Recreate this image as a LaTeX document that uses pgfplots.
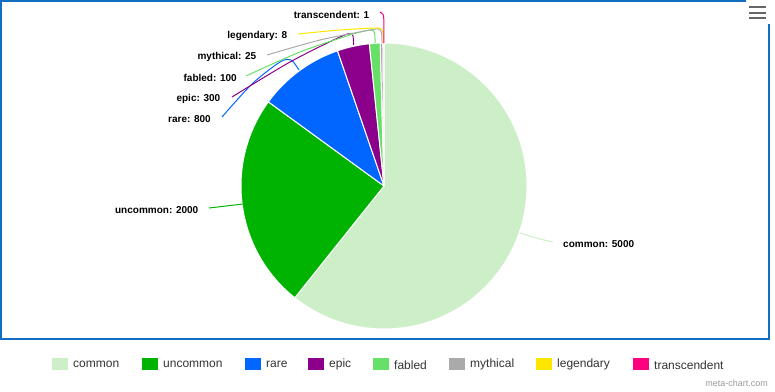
\documentclass[border=0pt]{standalone}
\usepackage{pgfplots}
\usepackage{pgfplotstable}
\pgfplotsset{compat=1.18}
\usepackage{fontspec}
\setmainfont{Liberation Sans}

\definecolor{pie0}{HTML}{CCEFC8}
\definecolor{pie1}{HTML}{00B300}
\definecolor{pie2}{HTML}{0066FF}
\definecolor{pie3}{HTML}{8B008B}
\definecolor{pie4}{HTML}{66E066}
\definecolor{pie5}{HTML}{AAAAAA}
\definecolor{pie6}{HTML}{FFE600}
\definecolor{pie7}{HTML}{FF0080}
\definecolor{frameblue}{HTML}{136DC0}
\definecolor{legtext}{HTML}{333333}
\definecolor{menugray}{HTML}{666666}

\pgfplotstableread{
name value
common 5000
uncommon 2000
rare 800
epic 300
fabled 100
mythical 25
legendary 8
transcendent 1
}\piedata

\def\pietotal{0}
\pgfplotsforeachungrouped \i in {0,...,7}{%
  \pgfplotstablegetelem{\i}{value}\of\piedata
  \pgfmathsetmacro\pietotal{\pietotal+\pgfplotsretval}%
}
\def\pieacc{90}
\pgfplotsforeachungrouped \i in {0,...,7}{%
  \pgfplotstablegetelem{\i}{value}\of\piedata
  \pgfmathsetmacro\piesweep{\pgfplotsretval/\pietotal*360}%
  \expandafter\xdef\csname pieA\i\endcsname{\pieacc}%
  \pgfmathsetmacro\pieacc{\pieacc-\piesweep}%
  \expandafter\xdef\csname pieB\i\endcsname{\pieacc}%
}

\newcommand\lf{\bfseries\fontsize{10}{12}\selectfont}
\newcommand\gf{\fontsize{12}{14}\selectfont}
\newcommand\legitem[3]{%
  \fill[#2] (axis cs:#1,358) rectangle (axis cs:#1+16,370);
  \node[anchor=west, inner sep=0pt, font=\gf, text=legtext] at (axis cs:#1+21,364.8) {#3};
}

\begin{document}
\begin{tikzpicture}
\begin{axis}[
  width=775pt, height=391pt, scale only axis,
  xmin=0, xmax=775, ymin=0, ymax=391, y dir=reverse,
  hide axis, clip=false,
]
\path (axis cs:0,0) rectangle (axis cs:775,391);

% frame
\draw[frameblue, line width=2pt] (axis cs:746,1) -- (axis cs:1,1) -- (axis cs:1,339) -- (axis cs:769,339) -- (axis cs:769,24);
% menu button
\draw[menugray, line width=1.8pt] (axis cs:749,7.3) -- (axis cs:766,7.3);
\draw[menugray, line width=1.8pt] (axis cs:749,12.7) -- (axis cs:766,12.7);
\draw[menugray, line width=1.8pt] (axis cs:749,18.2) -- (axis cs:766,18.2);

% pie wedges
\pgfplotsinvokeforeach{0,...,7}{%
  \edef\tmp{\noexpand\filldraw[fill=pie#1, draw=white, line width=1pt, line join=round] (axis cs:384,186) -- ++(\csname pieA#1\endcsname:143pt) arc[start angle=\csname pieA#1\endcsname, end angle=\csname pieB#1\endcsname, radius=143pt] -- cycle;}\tmp
}

% connectors
\addplot[pie0, line width=1pt, no markers, smooth] coordinates {(520,233) (540,239) (553,242)};
\addplot[pie1, line width=1pt, no markers] coordinates {(209,208) (243,204)};
\addplot[pie2, line width=1pt, no markers, smooth] coordinates {(222,117) (252,84) (280,62) (291,60) (299,70)};
\addplot[pie3, line width=1pt, no markers, smooth] coordinates {(232,97) (290,62) (340,37) (352,34) (353.5,45)};
\addplot[pie4, line width=1pt, no markers, smooth] coordinates {(246,76) (300,52) (350,35) (370,30) (374.5,33) (375,43)};
\addplot[pie5, line width=1pt, no markers, smooth] coordinates {(267,55) (320,40) (365,31) (378,29) (381.5,33) (382,43)};
\addplot[pie6, line width=1pt, no markers, smooth] coordinates {(298,34) (340,30) (376,28) (382,30) (383.3,35) (383.4,43)};
\addplot[pie7, line width=1pt, no markers, smooth] coordinates {(380,12) (383,14.5) (383.8,20) (383.9,43)};

% data labels
\node[anchor=east, inner sep=0pt, font=\lf] at (axis cs:369.5,14.5) {transcendent: 1};
\node[anchor=east, inner sep=0pt, font=\lf] at (axis cs:287.5,35.5) {legendary: 8};
\node[anchor=east, inner sep=0pt, font=\lf] at (axis cs:256.5,56.5) {mythical: 25};
\node[anchor=east, inner sep=0pt, font=\lf] at (axis cs:237,77.5) {fabled: 100};
\node[anchor=east, inner sep=0pt, font=\lf] at (axis cs:220.5,98.5) {epic: 300};
\node[anchor=east, inner sep=0pt, font=\lf] at (axis cs:211,119.5) {rare: 800};
\node[anchor=east, inner sep=0pt, font=\lf] at (axis cs:198.5,210.5) {uncommon: 2000};
\node[anchor=west, inner sep=0pt, font=\lf] at (axis cs:563,244.5) {common: 5000};

% legend
\legitem{52}{pie0}{common}
\legitem{142}{pie1}{uncommon}
\legitem{245}{pie2}{rare}
\legitem{308}{pie3}{epic}
\legitem{373}{pie4}{fabled}
\legitem{449}{pie5}{mythical}
\legitem{536}{pie6}{legendary}
\legitem{633}{pie7}{transcendent}

\node[anchor=east, inner sep=0pt, font=\fontsize{9}{11}\selectfont, text=gray!80] at (axis cs:768,383) {meta-chart.com};
\end{axis}
\end{tikzpicture}
\end{document}
